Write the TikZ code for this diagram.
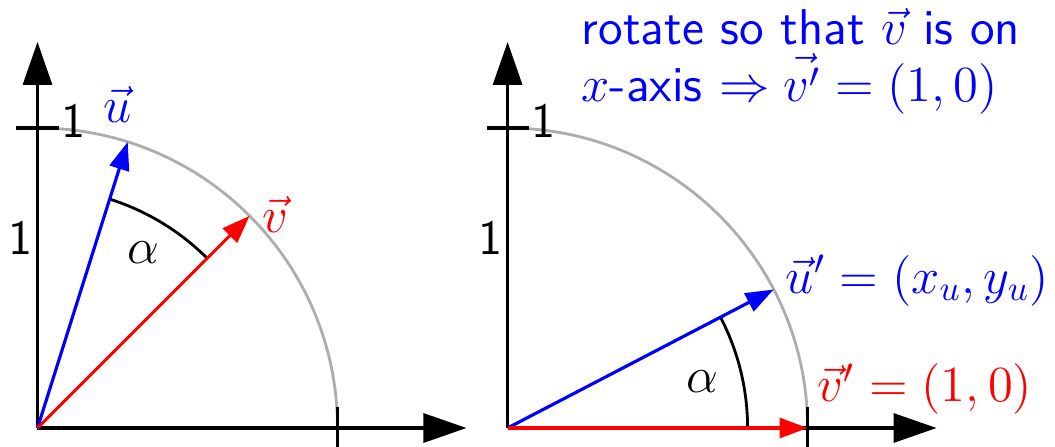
\documentclass[tikz,border=0pt]{standalone}
\usetikzlibrary{arrows.meta}
\begin{document}
\begin{tikzpicture}[x=3cm,y=3cm,
  font=\fontsize{14}{17}\selectfont\sffamily,
  axis/.style={line width=0.9pt,-{Triangle[length=4.3mm,width=2.9mm]}},
  tick/.style={line width=0.9pt},
  vec/.style={line width=0.9pt,-{Triangle[length=2.8mm,width=2mm]}},
  unitarc/.style={line width=0.8pt,black!32},
  anglearc/.style={line width=0.8pt,black},
  lbl/.style={inner sep=0pt,anchor=base},
  caption/.style={inner sep=0pt,anchor=base west,blue,font=\fontsize{14.3}{17}\selectfont\sffamily}]
\useasboundingbox (0,0) rectangle (3.5167,1.4867);
% ---------------- left diagram ----------------
\begin{scope}[shift={(0.125,0.06)}]
  \coordinate (O1) at (0,0);
  \coordinate (X1) at (1.43,0);
  \coordinate (Y1) at (0,1.287);
  \coordinate (U1) at (72.5:1);
  \coordinate (V1) at (45:1);
  \draw[unitarc] (1,0) arc[start angle=0,end angle=90,radius=1];
  \draw[axis] (O1) -- (X1);
  \draw[axis] (O1) -- (Y1);
  \draw[tick] (1,-0.07) -- (1,0.07);
  \draw[tick] (-0.07,1) -- (0.07,1);
  \node[lbl] (t1a) at (0.12,0.967) {1};
  \node[lbl] (t1b) at (-0.058,0.577) {1};
  \draw[anglearc] (45:0.8) arc[start angle=45,end angle=72.5,radius=0.8];
  \draw[vec,blue] (O1) -- (U1);
  \draw[vec,red] (O1) -- (V1);
  \node[lbl,blue] (lu) at (0.268,1.017) {$\vec u$};
  \node[lbl,red] (lv) at (0.792,0.653) {$\vec v$};
  \node[lbl] (la1) at (0.352,0.55) {$\alpha$};
\end{scope}
% ---------------- right diagram ----------------
\begin{scope}[shift={(1.692,0.06)}]
  \coordinate (O2) at (0,0);
  \coordinate (X2) at (1.43,0);
  \coordinate (Y2) at (0,1.287);
  \coordinate (U2) at (27.5:1);
  \coordinate (V2) at (1,0);
  \draw[unitarc] (1,0) arc[start angle=0,end angle=90,radius=1];
  \draw[axis] (O2) -- (X2);
  \draw[axis] (O2) -- (Y2);
  \draw[tick] (1,-0.07) -- (1,0.07);
  \draw[tick] (-0.07,1) -- (0.07,1);
  \node[lbl] (t2a) at (0.12,0.967) {1};
  \node[lbl] (t2b) at (-0.058,0.577) {1};
  \draw[anglearc] (0:0.8) arc[start angle=0,end angle=27.5,radius=0.8];
  \draw[vec,blue] (O2) -- (U2);
  \draw[vec,red] (O2) -- (V2);
  \node[lbl,blue,anchor=base west] (lu2) at (0.925,0.45) {$\vec u' = (x_u,y_u)$};
  \node[lbl,red,anchor=base west] (lv2) at (1.032,0.087) {$\vec v' = (1,0)$};
  \node[lbl] (la2) at (0.648,0.12) {$\alpha$};
\end{scope}
% ---------------- caption text ----------------
\node[caption] (c1) at (1.937,1.34) {rotate so that $\vec v$ is on};
\node[caption] (c2) at (1.937,1.147) {$x$-axis $\Rightarrow \vec{v'} = (1,0)$};
\end{tikzpicture}
\end{document}
